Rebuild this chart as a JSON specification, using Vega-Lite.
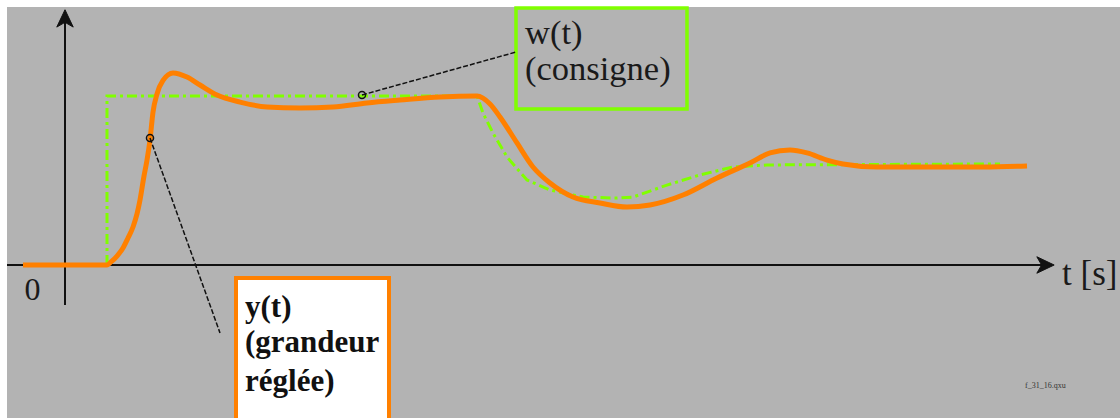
{
  "$schema": "https://vega.github.io/schema/vega-lite/v6.json",
  "width": 1113,
  "height": 411,
  "autosize": "none",
  "padding": {"left": 7, "top": 7, "right": 0, "bottom": 0},
  "background": "#ffffff",
  "config": {"view": {"stroke": null, "fill": "#b3b3b3"}},
  "datasets": {
    "y_t": [
      {"t": -0.84, "v": 0}, {"t": 0.84, "v": 0}, {"t": 0.92, "v": 0.018}, {"t": 1.04, "v": 0.053},
      {"t": 1.16, "v": 0.101}, {"t": 1.26, "v": 0.160}, {"t": 1.36, "v": 0.225}, {"t": 1.44, "v": 0.302},
      {"t": 1.50, "v": 0.385}, {"t": 1.58, "v": 0.527}, {"t": 1.64, "v": 0.621}, {"t": 1.70, "v": 0.740},
      {"t": 1.76, "v": 0.905}, {"t": 1.84, "v": 1.012}, {"t": 1.96, "v": 1.092}, {"t": 2.16, "v": 1.136},
      {"t": 2.44, "v": 1.112}, {"t": 2.70, "v": 1.065}, {"t": 3.04, "v": 1.006}, {"t": 3.50, "v": 0.964},
      {"t": 4.04, "v": 0.935}, {"t": 4.70, "v": 0.929}, {"t": 5.36, "v": 0.935}, {"t": 6.04, "v": 0.959},
      {"t": 6.70, "v": 0.976}, {"t": 7.50, "v": 0.994}, {"t": 8.24, "v": 1.0}, {"t": 8.50, "v": 0.953},
      {"t": 8.70, "v": 0.876}, {"t": 9.04, "v": 0.722}, {"t": 9.36, "v": 0.580}, {"t": 9.70, "v": 0.485},
      {"t": 10.16, "v": 0.402}, {"t": 10.70, "v": 0.367}, {"t": 11.24, "v": 0.343}, {"t": 11.70, "v": 0.355},
      {"t": 12.36, "v": 0.414}, {"t": 13.04, "v": 0.515}, {"t": 13.70, "v": 0.604}, {"t": 14.10, "v": 0.663},
      {"t": 14.50, "v": 0.680}, {"t": 14.84, "v": 0.663}, {"t": 15.24, "v": 0.621}, {"t": 15.56, "v": 0.598},
      {"t": 16.24, "v": 0.580}, {"t": 17.04, "v": 0.580}, {"t": 18.36, "v": 0.580}, {"t": 19.24, "v": 0.586}
    ],
    "w_t": [
      {"t": 0.84, "v": 0}, {"t": 0.84, "v": 1.0}, {"t": 8.24, "v": 1.0}, {"t": 8.36, "v": 0.899},
      {"t": 8.56, "v": 0.781}, {"t": 8.84, "v": 0.639}, {"t": 9.24, "v": 0.503}, {"t": 9.70, "v": 0.444},
      {"t": 10.36, "v": 0.402}, {"t": 11.04, "v": 0.396}, {"t": 11.36, "v": 0.402}, {"t": 12.04, "v": 0.473},
      {"t": 12.70, "v": 0.533}, {"t": 13.36, "v": 0.580}, {"t": 14.04, "v": 0.592}, {"t": 18.70, "v": 0.598}
    ],
    "green_box": [{"t": 9.02, "t2": 12.44, "v": 0.923, "v2": 1.521}],
    "orange_box": [{"t": 3.42, "t2": 6.48, "v": -0.95, "v2": -0.077}],
    "x_axis": [{"t": -1.16, "v": 0}, {"t": 19.72, "v": 0}],
    "y_axis": [{"t": 0, "v": -0.237}, {"t": 0, "v": 1.47}],
    "x_arrow": [{"t": 19.61, "v": 0}],
    "y_arrow": [{"t": 0, "v": 1.459}],
    "lead_w": [{"t": 5.94, "v": 1.006}, {"t": 9.02, "v": 1.26}],
    "lead_y": [{"t": 1.70, "v": 0.751}, {"t": 3.10, "v": -0.402}],
    "markers": [{"t": 5.94, "v": 1.006}, {"t": 1.70, "v": 0.751}],
    "w_text": [{"t": 9.2, "v": 1.308, "label": "w(t)"}, {"t": 9.2, "v": 1.095, "label": "(consigne)"}],
    "y_text": [
      {"t": 3.6, "v": -0.308, "label": "y(t)"},
      {"t": 3.6, "v": -0.515, "label": "(grandeur"},
      {"t": 3.6, "v": -0.746, "label": "réglée)"}
    ],
    "zero": [{"t": -0.65, "v": -0.207, "label": "0"}],
    "t_label": [{"t": 19.94, "v": -0.118, "label": "t [s]"}],
    "file_label": [{"t": 19.2, "v": -0.716, "label": "f_31_16.qxu"}]
  },
  "encoding": {
    "x": {"field": "t", "type": "quantitative", "scale": {"domain": [-1.16, 21.1], "nice": false, "zero": false}, "axis": null},
    "y": {"field": "v", "type": "quantitative", "scale": {"domain": [-0.9053, 1.5266], "nice": false, "zero": false}, "axis": null}
  },
  "layer": [
    {
      "data": {"name": "green_box"},
      "mark": {"type": "rect", "fill": null, "fillOpacity": 0, "stroke": "#80ff00", "strokeWidth": 3.5},
      "encoding": {"x2": {"field": "t2"}, "y2": {"field": "v2"}}
    },
    {
      "data": {"name": "orange_box"},
      "mark": {"type": "rect", "fill": "#ffffff", "stroke": "#ff8000", "strokeWidth": 4},
      "encoding": {"x2": {"field": "t2"}, "y2": {"field": "v2"}}
    },
    {
      "data": {"name": "x_axis"},
      "mark": {"type": "line", "color": "#111111", "strokeWidth": 2},
      "encoding": {"order": {"field": "t"}}
    },
    {
      "data": {"name": "y_axis"},
      "mark": {"type": "line", "color": "#111111", "strokeWidth": 2},
      "encoding": {"order": {"field": "v"}}
    },
    {
      "data": {"name": "x_arrow"},
      "mark": {"type": "point", "shape": "M 1 0 L -1 -0.95 L -0.45 0 L -1 0.95 Z", "size": 300, "filled": true, "fill": "#111111", "stroke": "#111111", "strokeWidth": 1, "opacity": 1}
    },
    {
      "data": {"name": "y_arrow"},
      "mark": {"type": "point", "shape": "M 1 0 L -1 -0.95 L -0.45 0 L -1 0.95 Z", "size": 300, "angle": -90, "filled": true, "fill": "#111111", "stroke": "#111111", "strokeWidth": 1, "opacity": 1}
    },
    {
      "data": {"name": "w_t"},
      "mark": {"type": "line", "color": "#80ff00", "strokeWidth": 3, "strokeDash": [10, 4, 3, 4]},
      "encoding": {"order": {"field": "t"}}
    },
    {
      "data": {"name": "y_t"},
      "mark": {"type": "line", "color": "#ff8000", "strokeWidth": 5, "interpolate": "monotone"}
    },
    {
      "data": {"name": "lead_w"},
      "mark": {"type": "line", "color": "#111111", "strokeWidth": 1.5, "strokeDash": [5, 2]}
    },
    {
      "data": {"name": "lead_y"},
      "mark": {"type": "line", "color": "#111111", "strokeWidth": 1.5, "strokeDash": [5, 2]}
    },
    {
      "data": {"name": "markers"},
      "mark": {"type": "point", "shape": "circle", "size": 50, "filled": false, "stroke": "#111111", "strokeWidth": 1.5, "opacity": 1}
    },
    {
      "data": {"name": "w_text"},
      "mark": {"type": "text", "font": "Liberation Serif", "fontSize": 34.5, "align": "left", "baseline": "alphabetic", "color": "#1a1a1a"},
      "encoding": {"text": {"field": "label"}}
    },
    {
      "data": {"name": "y_text"},
      "mark": {"type": "text", "font": "Liberation Serif", "fontSize": 31, "fontWeight": "bold", "align": "left", "baseline": "alphabetic", "color": "#111111"},
      "encoding": {"text": {"field": "label"}}
    },
    {
      "data": {"name": "zero"},
      "mark": {"type": "text", "font": "Liberation Serif", "fontSize": 32, "align": "center", "baseline": "alphabetic", "color": "#1a1a1a"},
      "encoding": {"text": {"field": "label"}}
    },
    {
      "data": {"name": "t_label"},
      "mark": {"type": "text", "font": "Liberation Serif", "fontSize": 35, "align": "left", "baseline": "alphabetic", "color": "#1a1a1a"},
      "encoding": {"text": {"field": "label"}}
    },
    {
      "data": {"name": "file_label"},
      "mark": {"type": "text", "font": "Liberation Serif", "fontSize": 8, "align": "left", "baseline": "middle", "color": "#333333"},
      "encoding": {"text": {"field": "label"}}
    }
  ]
}
